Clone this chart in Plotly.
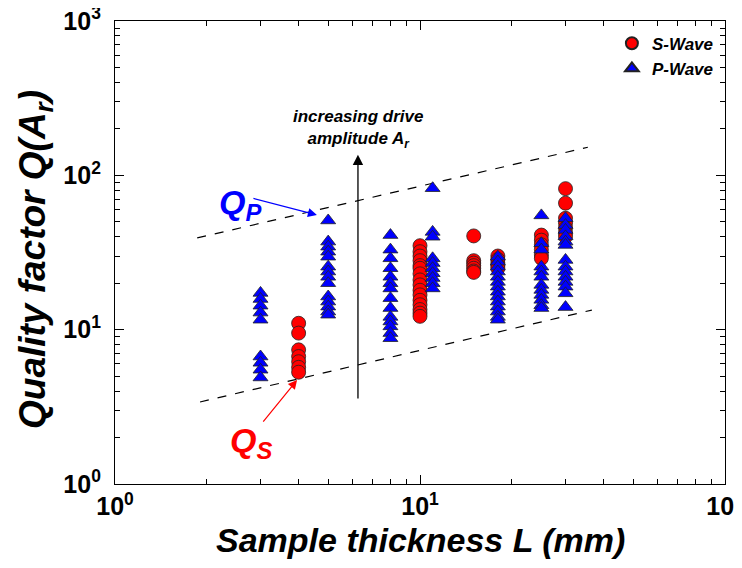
import plotly.graph_objects as go
import math

# ---- data ----
s_thickness = [4, 10, 15, 18, 25, 30]
s_values = [
    [11, 9.5, 7.4, 6.7, 6.2, 5.7, 5.3],
    [35, 32, 30, 28, 26, 25, 23, 21, 19.5, 18, 16.8, 15.5, 14.5, 13.5, 12.8, 12.2],
    [40.5, 28, 27, 26, 25, 24, 23.5],
    [30, 28.5, 27, 26, 25],
    [41, 38, 35.5, 33, 30.5, 29],
    [82, 66, 52.7, 49, 45.5, 42.2, 40],
]
p_thickness = [3, 5, 8, 11, 18, 25, 30]
p_values = [
    [17.3, 15.8, 14.3, 12.9, 11.6, 6.7, 6.1, 5.5, 4.9],
    [51, 37.2, 34.5, 32, 29.7, 25.6, 23.8, 22, 20, 16.4, 15.2, 14.1, 13.1, 12.5],
    [41, 33, 29, 25, 22, 20, 18.5, 16, 13.8, 12.1, 11.3, 10.5, 9.5, 8.8],
    [82.5, 43, 40, 29, 27, 25, 23.2, 21.6, 20, 18.5],
    [29.7, 27.6, 25.6, 23.8, 22, 20.4, 19, 17.6, 16.4, 15.2, 14.1, 13.1, 12.1, 11.6],
    [55, 36.3, 33, 25.6, 23.8, 22, 19.5, 18.1, 16.8, 15.6, 14.4, 13.8],
    [52.7, 47.6, 44.3, 40.2, 37.2, 35.4, 28.3, 25.6, 23.8, 22, 20.4, 19, 17.2, 14],
]
# guide (dashed) lines
qp_line_x = [1.86, 35.5]
qp_line_y = [39.3, 152]
qs_line_x = [1.9, 36.6]
qs_line_y = [3.4, 13.4]

tick_vals = [1, 10, 100, 1000]
x_tick_text = ["10<sup>0</sup>", "10<sup>1</sup>", "10<sup>2</sup>", ""]
y_tick_text = ["10<sup>0</sup>", "10<sup>1</sup>", "10<sup>2</sup>", "10<sup>3</sup>"]

sx, sy = [], []
for L, vals in zip(s_thickness, s_values):
    sx += [L] * len(vals)
    sy += vals
px, py = [], []
for L, vals in zip(p_thickness, p_values):
    px += [L] * len(vals)
    py += vals

FONT = "Liberation Sans, Arial, sans-serif"

fig = go.Figure()
fig.add_trace(go.Scatter(x=qp_line_x, y=qp_line_y, mode="lines", showlegend=False,
                         line=dict(color="black", width=1.2, dash="dash")))
fig.add_trace(go.Scatter(x=qs_line_x, y=qs_line_y, mode="lines", showlegend=False,
                         line=dict(color="black", width=1.2, dash="dash")))
fig.add_trace(go.Scatter(x=sx, y=sy, mode="markers", name="<b><i>S-Wave</i></b>",
                         marker=dict(symbol="circle", size=14, color="#ff0000",
                                     line=dict(color="#222222", width=0.8))))
fig.add_trace(go.Scatter(x=px, y=py, mode="markers", name="<b><i>P-Wave</i></b>",
                         marker=dict(symbol="triangle-up", size=13, color="#0000ff",
                                     line=dict(color="#222222", width=0.8))))

lg = math.log10
ann = []
# vertical black arrow
ann.append(dict(x=lg(6.26), y=lg(136), ax=lg(6.26), ay=lg(3.5), xref="x", yref="y",
                axref="x", ayref="y", text="", showarrow=True, arrowhead=2,
                arrowsize=1.6, arrowwidth=1.3, arrowcolor="black"))
ann.append(dict(x=lg(6.26), y=(484 - 129) / 154.3, xref="x", yref="y",
                text="<b><i>increasing drive<br>amplitude A<sub>r</sub></i></b>",
                showarrow=False, font=dict(family=FONT, size=17, color="black")))
# Q_P
ann.append(dict(x=0.662, y=1.743, ax=0.449, ay=1.853, xref="x", yref="y",
                axref="x", ayref="y", text="", showarrow=True, arrowhead=2,
                arrowsize=1.5, arrowwidth=1.2, arrowcolor="#0000ff"))
ann.append(dict(x=0.41, y=1.81, xref="x", yref="y", text="<b><i>Q<sub>P</sub></i></b>",
                showarrow=False, font=dict(family=FONT, size=34, color="#0000ff")))
# Q_S
ann.append(dict(x=0.597, y=0.674, ax=0.482, ay=0.395, xref="x", yref="y",
                axref="x", ayref="y", text="", showarrow=True, arrowhead=2,
                arrowsize=1.5, arrowwidth=1.2, arrowcolor="#ff0000"))
ann.append(dict(x=0.445, y=0.27, xref="x", yref="y", text="<b><i>Q<sub>S</sub></i></b>",
                showarrow=False, font=dict(family=FONT, size=34, color="#ff0000")))
# axis titles (placed as paper annotations for exact positioning)
ann.append(dict(x=0.5, y=-0.121, xref="paper", yref="paper", xanchor="center",
                yanchor="middle", showarrow=False,
                text="<b><i>Sample thickness L (mm)</i></b>",
                font=dict(family=FONT, size=34, color="black")))
ann.append(dict(x=-0.131, y=0.484, xref="paper", yref="paper", xanchor="center",
                yanchor="middle", showarrow=False, textangle=-90,
                text="<b><i>Quality factor Q(A<sub>r</sub>)</i></b>",
                font=dict(family=FONT, size=37, color="black")))

axis_common = dict(type="log", showline=True, linecolor="black", linewidth=1.2,
                   mirror="allticks", ticks="inside", ticklen=9, tickwidth=1.2,
                   tickcolor="black", showgrid=False, zeroline=False,
                   automargin=False, ticklabeloverflow="allow", tickvals=tick_vals,
                   tickfont=dict(family=FONT, size=25, color="black", weight="bold"),
                   minor=dict(ticks="inside", ticklen=5, tickwidth=1, tickcolor="black",
                              dtick="D1", showgrid=False))

# page body adds an 8px margin: size the figure so the whole page fits the window
fig.update_layout(
    width=726, height=552,
    margin=dict(l=107, r=9, t=13, b=76),
    plot_bgcolor="white", paper_bgcolor="white",
    font=dict(family=FONT, color="black"),
    xaxis=dict(axis_common, range=[0, 2], ticktext=x_tick_text),
    yaxis=dict(axis_common, range=[0, 3], ticktext=y_tick_text, ticklabelstandoff=8),
    legend=dict(x=0.99, y=0.99, xanchor="right", yanchor="top",
                bgcolor="rgba(0,0,0,0)", font=dict(family=FONT, size=17),
                tracegroupgap=0, itemsizing="constant"),
    annotations=ann,
)

fig.write_html("out.html")
